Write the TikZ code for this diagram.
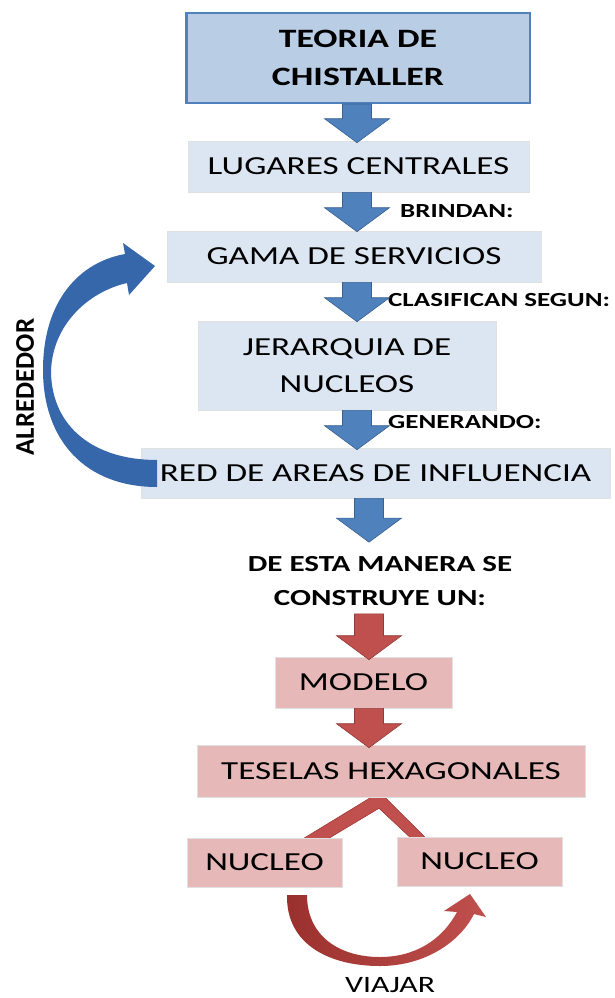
\documentclass[tikz,border=0pt]{standalone}
\usepackage{fontspec}
\setmainfont{Carlito}[FakeStretch=1.35]
\newfontfamily\uprightfont{Carlito}
\usetikzlibrary{calc,backgrounds}

\definecolor{BoxBlue}{HTML}{B9CDE5}
\definecolor{EdgeBlue}{HTML}{4F81BD}
\definecolor{PaleBlue}{HTML}{DCE6F2}
\definecolor{ArrowBlue}{HTML}{4F81BD}
\definecolor{CurveBlue}{HTML}{3667AA}
\definecolor{PaleRed}{HTML}{E6B9B8}
\definecolor{ArrowRed}{HTML}{C0504D}
\definecolor{DarkRed}{HTML}{9A302D}

\tikzset{
  titlebox/.style={fill=BoxBlue, draw=EdgeBlue, line width=2.5pt, inner sep=0pt, align=center,
    minimum width=343.5pt, minimum height=89.5pt, font=\fontsize{26.5}{38}\selectfont\bfseries},
  bluebox/.style={fill=PaleBlue, draw=black!12, line width=.6pt, inner sep=0pt, align=center,
    font=\fontsize{26}{37}\selectfont},
  redbox/.style={bluebox, fill=PaleRed},
  plain/.style={inner sep=0pt, align=center, font=\fontsize{23}{34}\selectfont\bfseries},
  tag/.style={inner sep=0pt, anchor=west, font=\fontsize{20}{24}\selectfont\bfseries},
}

% from, to, colour
\newcommand\blockarrow[3]{%
  \filldraw[fill=#3, draw=#3!75!black, line width=.6pt] let \p1=(#1), \p2=(#2) in
    (\x1-14.5pt,\y1) -- (\x1+14.5pt,\y1) -- (\x1+14.5pt,\y2+24pt) -- (\x1+32.5pt,\y2+24pt)
    -- (\x1,\y2) -- (\x1-32.5pt,\y2+24pt) -- (\x1-14.5pt,\y2+24pt) -- cycle;}

\begin{document}
\begin{tikzpicture}[x=1pt, y=-1pt]
	\useasboundingbox (0,0) rectangle (615,998);
	\node[titlebox] (teoria) at (358,58) {TEORIA DE\\CHISTALLER};
	\node[bluebox, minimum width=341pt, minimum height=51pt] (lugares) at (358.5,166.5) {LUGARES CENTRALES};
	\node[bluebox, minimum width=374pt, minimum height=51pt] (gama) at (354,256.5) {GAMA DE SERVICIOS};
	\node[bluebox, minimum width=298pt, minimum height=89pt] (jerarquia) at (347,365.5) {JERARQUIA DE\\NUCLEOS};
	\node[bluebox, minimum width=469pt, minimum height=50pt] (red) at (375.5,473) {RED DE AREAS DE INFLUENCIA};
	\node[plain] (construye) at (380,581) {DE ESTA MANERA SE\\CONSTRUYE UN:};
	\node[redbox, minimum width=177pt, minimum height=51pt] (modelo) at (363.5,682.5) {MODELO};
	\node[redbox, minimum width=388pt, minimum height=52pt] (teselas) at (391,771) {TESELAS HEXAGONALES};
	\node[redbox, minimum width=155pt, minimum height=49pt] (nucleoA) at (264.5,862.5) {NUCLEO};
	\node[redbox, minimum width=165pt, minimum height=49pt] (nucleoB) at (479.5,861.5) {NUCLEO};

	\node[tag] (brindan) at (400,211) {BRINDAN:};
	\node[tag] (clasifican) at (388,300) {CLASIFICAN SEGUN:};
	\node[tag] (generando) at (388,422) {GENERANDO:};
	\node[inner sep=0pt, rotate=90, font=\uprightfont\fontsize{27}{30}\selectfont\bfseries] (alrededor) at (25,387) {ALREDEDOR};
	\node[plain, font=\fontsize{23.5}{28}\selectfont] (viajar) at (390,985) {VIAJAR};

	\coordinate (axisA) at (357,0);
	\coordinate (axisB) at (369,0);
	\blockarrow{axisA |- teoria.south}{$(axisA |- lugares.north)+(0,2)$}{ArrowBlue}
	\blockarrow{axisA |- lugares.south}{$(axisA |- gama.north)+(0,1)$}{ArrowBlue}
	\blockarrow{axisA |- gama.south}{$(axisA |- jerarquia.north)+(0,1)$}{ArrowBlue}
	\blockarrow{axisA |- jerarquia.south}{$(axisA |- red.north)+(0,2)$}{ArrowBlue}
	\blockarrow{axisB |- red.south}{$(axisB |- construye.north)+(0,-14)$}{ArrowBlue}
	\blockarrow{$(axisB |- construye.south)+(0,8)$}{$(axisB |- modelo.north)+(0,3)$}{ArrowRed}
	\blockarrow{axisB |- modelo.south}{$(axisB |- teselas.north)+(0,3)$}{ArrowRed}

	\begin{scope}[on background layer]
		\filldraw[fill=ArrowRed, draw=DarkRed, line width=.5pt] ($(nucleoA.north)+(37,2)$) -- ($(teselas.south)+(-20,0)$)
			-- ($(teselas.south)+(-6,0)$) -- ($(nucleoB.north)+(-53,2)$) -- ($(nucleoB.north)+(-68,2)$)
			-- ($(teselas.south)+(-12,11)$) -- ($(nucleoA.north)+(62,2)$) -- cycle;
	\end{scope}
	\path[left color=DarkRed, right color=ArrowRed] (287,895) .. controls (286,945) and (330,966) .. (380,966)
		.. controls (425,966) and (460,942) .. (474,914) -- (486,917) -- (470,894) -- (444,911) -- (457,912)
		.. controls (442,940) and (415,957) .. (380,957) .. controls (338,957) and (307,935) .. (307,895) -- cycle;
	\fill[CurveBlue] (157,487) .. controls (85,487) and (43,440) .. (43,370) .. controls (43,300) and (80,262) .. (125,254)
		-- (123,243) -- (155,266) -- (129,295) -- (127,283) .. controls (88,292) and (52,325) .. (51,372)
		.. controls (52,428) and (95,460) .. (157,460) -- cycle;
\end{tikzpicture}
\end{document}
